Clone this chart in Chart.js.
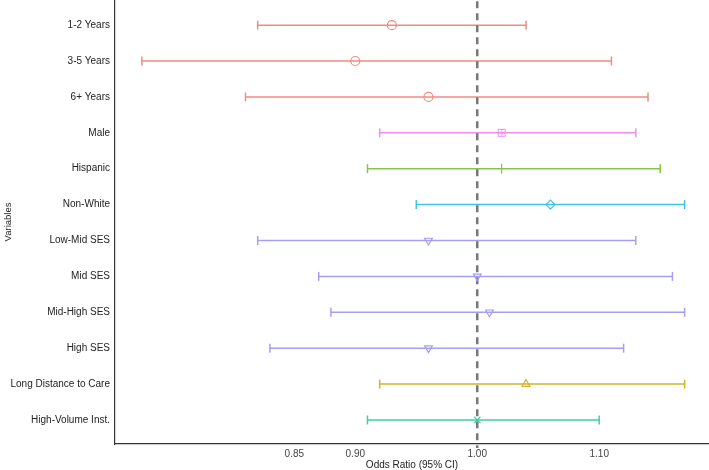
<!DOCTYPE html>
<html>
<head>
<meta charset="utf-8">
<script src="https://cdn.jsdelivr.net/npm/chart.js@4.4.1/dist/chart.umd.min.js"></script>
<style>
  html, body { margin: 0; padding: 0; background: #fff; }
  #wrap { width: 709px; height: 470px; }
</style>
</head>
<body>
<div id="wrap"><canvas id="forest"></canvas></div>
<script>
const variables = ['1-2 Years', '3-5 Years', '6+ Years', 'Male', 'Hispanic', 'Non-White',
    'Low-Mid SES', 'Mid SES', 'Mid-High SES', 'High SES', 'Long Distance to Care', 'High-Volume Inst.'];
const groups = ['years', 'years', 'years', 'male', 'hispanic', 'nonwhite',
    'ses', 'ses', 'ses', 'ses', 'distance', 'volume'];
const oddsRatio = [0.93, 0.90, 0.96, 1.02, 1.02, 1.06, 0.96, 1.00, 1.01, 0.96, 1.04, 1.00];
const lowerCI = [0.82, 0.725, 0.81, 0.92, 0.91, 0.95, 0.82, 0.87, 0.88, 0.83, 0.92, 0.91];
const upperCI = [1.04, 1.11, 1.14, 1.13, 1.15, 1.17, 1.13, 1.16, 1.17, 1.12, 1.17, 1.10];
const xTicks = [0.85, 0.90, 1.00, 1.10];
const refValue = 1.00;

// square with a plus inside (ggplot shape 12)
function squarePlus(color) {
    const c = document.createElement('canvas');
    c.width = 10; c.height = 10;
    const g = c.getContext('2d');
    g.strokeStyle = color;
    g.lineWidth = 1;
    g.strokeRect(1.5, 1.5, 7, 7);
    g.beginPath();
    g.moveTo(5, 1.5); g.lineTo(5, 8.5);
    g.moveTo(1.5, 5); g.lineTo(8.5, 5);
    g.stroke();
    return c;
}

// colour and marker per group
const groupStyle = {
    years:    { color: '#F28A82', shape: 'circle', rot: 0 },
    male:     { color: '#EE8DEE', shape: squarePlus('#EE8DEE'), rot: 0 },
    hispanic: { color: '#88C446', shape: 'line', rot: 90 },
    nonwhite: { color: '#3EC3E8', shape: 'rectRot', rot: 0 },
    ses:      { color: '#A69EF2', shape: 'triangle', rot: 180 },
    distance: { color: '#D2B22E', shape: 'triangle', rot: 0 },
    volume:   { color: '#40CFA4', shape: 'crossRot', rot: 0 }
};

const datasets = [];

// point estimates
datasets.push({
    type: 'scatter',
    order: 0,
    data: oddsRatio.map((v, i) => ({ x: v, y: i })),
    pointStyle: groups.map(g => groupStyle[g].shape),
    rotation: groups.map(g => groupStyle[g].rot),
    borderColor: groups.map(g => groupStyle[g].color),
    backgroundColor: 'rgba(0,0,0,0)',
    pointRadius: groups.map(g => groupStyle[g].shape === 'line' ? 5 : 4.5),
    pointBorderWidth: 1.2
});

// reference line at OR = 1
datasets.push({
    type: 'line',
    order: 1,
    data: [{ x: refValue, y: -1 }, { x: refValue, y: 12 }],
    borderColor: '#777',
    borderWidth: 2.5,
    borderDash: [7, 5],
    pointRadius: 0,
    clip: 4
});

// confidence intervals, one dataset per row
variables.forEach((name, i) => {
    const c = groupStyle[groups[i]].color;
    datasets.push({
        type: 'line',
        order: 2,
        data: [{ x: lowerCI[i], y: i }, { x: upperCI[i], y: i }],
        borderColor: c,
        borderWidth: 1.5,
        pointStyle: 'line',
        rotation: 90,
        pointRadius: 4.5,
        pointBorderColor: c,
        pointBorderWidth: 1.5
    });
});

new Chart(document.getElementById('forest'), {
    data: { datasets },
    options: {
        responsive: true,
        maintainAspectRatio: false,
        animation: false,
        layout: { padding: { left: 3, right: 0, top: 0, bottom: 0 }, autoPadding: false },
        plugins: { legend: { display: false }, tooltip: { enabled: false } },
        scales: {
            x: {
                type: 'linear',
                min: 0.703,
                max: 1.19,
                afterBuildTicks: axis => { axis.ticks = xTicks.map(v => ({ value: v })); },
                afterFit: axis => { axis.height = 26; axis.paddingLeft = 0; axis.paddingRight = 0; },
                ticks: {
                    callback: v => v.toFixed(2),
                    color: '#444',
                    font: { family: 'Liberation Sans', size: 10 },
                    padding: 1,
                    maxRotation: 0
                },
                grid: { display: false, drawOnChartArea: false, tickLength: 3, tickColor: '#333' },
                border: { display: true, color: '#333', width: 1.2 },
                title: {
                    display: true,
                    text: 'Odds Ratio (95% CI)',
                    color: '#222',
                    font: { family: 'Liberation Sans', size: 10 },
                    padding: { top: 0, bottom: -1 }
                }
            },
            y: {
                type: 'linear',
                reverse: true,
                min: -0.7,
                max: 11.67,
                afterBuildTicks: axis => { axis.ticks = variables.map((_, i) => ({ value: i })); },
                afterFit: axis => { axis.width = 112; axis.paddingTop = 0; axis.paddingBottom = 0; },
                ticks: {
                    callback: v => variables[v],
                    color: '#222',
                    font: { family: 'Liberation Sans', size: 10 },
                    padding: 2,
                    autoSkip: false
                },
                grid: { display: false, drawOnChartArea: false, tickLength: 3, tickColor: '#333' },
                border: { display: true, color: '#333', width: 1.2 },
                title: {
                    display: true,
                    text: 'Variables',
                    color: '#222',
                    font: { family: 'Liberation Sans', size: 9.5 },
                    padding: { top: 0, bottom: 0 }
                }
            }
        }
    }
});
</script>
</body>
</html>
